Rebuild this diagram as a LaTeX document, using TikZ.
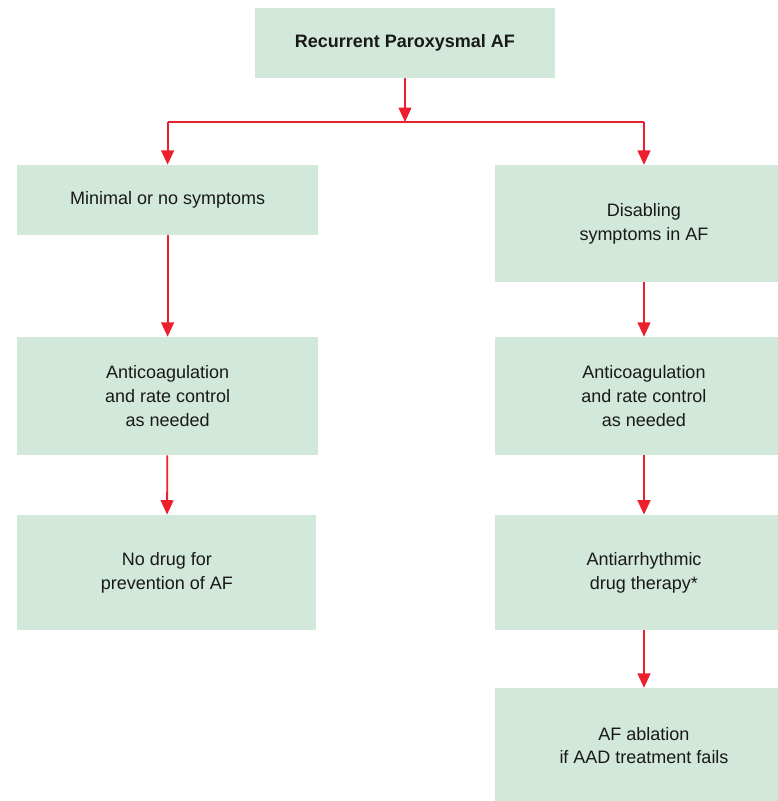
\documentclass[tikz,border=0pt]{standalone}
\usepackage{fontspec}
\setmainfont{Liberation Sans}
\usetikzlibrary{positioning, arrows.meta}
\definecolor{boxgreen}{RGB}{210,232,218}
\definecolor{flowred}{RGB}{236,32,44}

\begin{document}
\begin{tikzpicture}[
  font=\fontsize{12.8}{17}\selectfont,
  box/.style={fill=boxgreen, draw=none, align=center, text=black!90,
    minimum width=7.5cm, inner sep=3pt},
  flow/.style={-{Triangle[width=0.32cm, length=0.36cm]}, line width=1.3pt, draw=flowred},
  link/.style={line width=1.3pt, draw=flowred}
]
\useasboundingbox (0,0) rectangle (19.45,-20.025);

\node[box, minimum height=1.75cm, font=\fontsize{12.8}{17}\selectfont\bfseries] (top) at (10.125,-1.075)
  {Recurrent Paroxysmal AF};

% left branch
\node[box, minimum width=7.525cm, minimum height=1.75cm] (l1) at (4.19,-5.0)
  {Minimal or no symptoms};
\node[box, minimum width=7.525cm, minimum height=2.95cm] (l2) at (4.19,-9.9)
  {Anticoagulation\\and rate control\\as needed};
\node[box, minimum width=7.475cm, minimum height=2.875cm] (l3) at (4.17,-14.31)
  {No drug for\\prevention of AF};

% right branch
\node[box, minimum width=7.45cm, minimum height=2.925cm] (r1) at (16.1,-5.59)
  {Disabling\\symptoms in AF};
\node[box, minimum width=7.45cm, minimum height=2.95cm] (r2) at (16.1,-9.9)
  {Anticoagulation\\and rate control\\as needed};
\node[box, minimum width=7.45cm, minimum height=2.875cm] (r3) at (16.1,-14.31)
  {Antiarrhythmic\\drug therapy*};
\node[box, minimum width=7.45cm, minimum height=2.875cm] (r4) at (16.1,-18.64)
  {AF ablation\\if AAD treatment fails};

\coordinate (split) at (10.125,-3.05);

\draw[flow] (top.south) -- (split);
\draw[link] (l1.north |- split) -- (r1.north |- split);
\draw[flow] (l1.north |- split) -- (l1.north);
\draw[flow] (r1.north |- split) -- (r1.north);

\draw[flow] (l1) -- (l2);
\draw[flow] (l2) -- (l3);
\draw[flow] (r1) -- (r2);
\draw[flow] (r2) -- (r3);
\draw[flow] (r3) -- (r4);

\end{tikzpicture}
\end{document}
